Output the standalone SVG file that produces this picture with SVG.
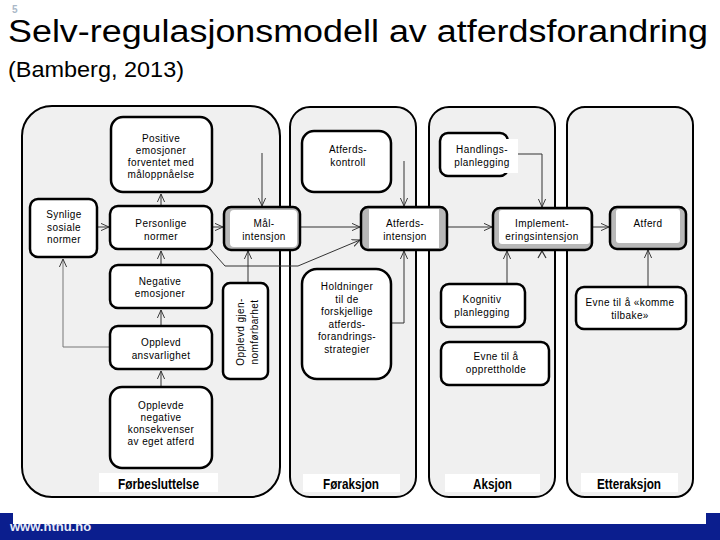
<svg xmlns="http://www.w3.org/2000/svg" width="720" height="540" viewBox="0 0 720 540">
<defs>
<marker id="ah" viewBox="0 0 10 10" refX="10" refY="5" markerWidth="8" markerHeight="8" orient="auto" markerUnits="userSpaceOnUse">
<path d="M0,0.5 L10,5 L0,9.5" fill="none" stroke="#333" stroke-width="1.2"/>
</marker>
<style>
.panel{fill:#f0f0f0;stroke:#000;stroke-width:2}
.node{fill:#fff;stroke:#000;stroke-width:2.5}
.gnode{fill:#b8b8b8;stroke:#000;stroke-width:2.5}
.inner{fill:#fff;stroke:none}
.lbl{fill:#fff;stroke:none}
.t{font-family:"Liberation Sans",Arial,sans-serif;font-size:10px;letter-spacing:0.4px;fill:#000;text-anchor:middle}
.ph{font-family:"Liberation Sans",Arial,sans-serif;font-size:14px;font-weight:bold;fill:#000;text-anchor:middle}
.c{fill:none;stroke:#333;stroke-width:1;marker-end:url(#ah)}
.cg{fill:none;stroke:#777;stroke-width:1;marker-end:url(#ah)}
</style>
</defs>
<rect width="720" height="540" fill="#fff"/>
<text x="12" y="13" font-family="Liberation Sans,Arial,sans-serif" font-size="10" font-weight="bold" fill="#aab8c8">5</text>
<text x="8" y="42" font-family="Liberation Sans,Arial,sans-serif" font-size="31" textLength="700" lengthAdjust="spacingAndGlyphs" fill="#000">Selv-regulasjonsmodell av atferdsforandring</text>
<text x="8" y="77" font-family="Liberation Sans,Arial,sans-serif" font-size="22" textLength="176" lengthAdjust="spacingAndGlyphs" fill="#000">(Bamberg, 2013)</text>

<g id="phases">
<rect class="panel" x="22" y="106" width="258" height="391" rx="30"/>
<rect class="panel" x="290" y="107" width="126" height="390" rx="20"/>
<rect class="panel" x="429" y="107" width="126" height="390" rx="20"/>
<rect class="panel" x="567" y="107" width="126" height="390" rx="18"/>
<rect class="lbl" x="99" y="473" width="119" height="19"/>
<rect class="lbl" x="303" y="474" width="97" height="18"/>
<rect class="lbl" x="445" y="474" width="95" height="18"/>
<rect class="lbl" x="581" y="473" width="97" height="19"/>
<text class="ph" x="158.5" y="489" textLength="81" lengthAdjust="spacingAndGlyphs">Førbesluttelse</text>
<text class="ph" x="351" y="489" textLength="56" lengthAdjust="spacingAndGlyphs">Føraksjon</text>
<text class="ph" x="492.5" y="489" textLength="39" lengthAdjust="spacingAndGlyphs">Aksjon</text>
<text class="ph" x="629" y="489" textLength="64" lengthAdjust="spacingAndGlyphs">Etteraksjon</text>
</g>

<g id="connectors">
<path class="c" d="M161,206 L161,194"/>
<path class="c" d="M97,227 L109,227"/>
<path class="c" d="M212,227 L223,227"/>
<path class="c" d="M161,265 L161,251"/>
<path class="c" d="M161,326 L161,310"/>
<path class="c" d="M161,387 L161,371"/>
<path class="cg" d="M110,347 L63,347 L63,259"/>
<path class="c" d="M248,283 L248,251"/>
<path class="c" d="M262,153 L262,206"/>
<path class="c" d="M300,227 L360,227"/>
<path class="c" d="M210,249 L225,266 L298,266 L360,240"/>
<path class="c" d="M404,161 L404,206"/>
<path class="c" d="M391,323 L404,323 L404,251"/>
<path class="c" d="M447,227 L492,227"/>
<path class="c" d="M518,154 L542,154 L542,207"/>
<path class="c" d="M507,284 L507,251"/>
<path fill="none" stroke="#333" stroke-width="1.2" d="M538,258 L542,251 L546,258"/>
<path class="c" d="M592,227 L609,227"/>
<path class="c" d="M648,287 L648,250"/>
</g>

<g id="positive">
<rect class="node" x="111" y="117" width="101" height="75" rx="12"/>
<text class="t" x="161" y="142">Positive<tspan x="161" dy="12">emosjoner</tspan><tspan x="161" dy="12">forventet med</tspan><tspan x="161" dy="12">måloppnåelse</tspan></text>
</g>
<g id="synlige">
<rect class="node" x="30" y="199" width="67" height="58" rx="8"/>
<text class="t" x="64" y="218">Synlige<tspan x="64" dy="12.5">sosiale</tspan><tspan x="64" dy="12.5">normer</tspan></text>
</g>
<g id="personlige">
<rect class="node" x="110" y="206" width="102" height="43" rx="8"/>
<text class="t" x="161" y="227">Personlige<tspan x="161" dy="13">normer</tspan></text>
</g>
<g id="malintensjon">
<rect class="gnode" x="224" y="207" width="76" height="43" rx="7"/>
<rect class="inner" x="230" y="210" width="67" height="37" rx="4"/>
<text class="t" x="264" y="227">Mål-<tspan x="264" dy="13">intensjon</tspan></text>
</g>
<g id="negative">
<rect class="node" x="110" y="265" width="102" height="43" rx="8"/>
<text class="t" x="160" y="285">Negative<tspan x="160" dy="12">emosjoner</tspan></text>
</g>
<g id="ansvarlighet">
<rect class="node" x="110" y="326" width="102" height="43" rx="8"/>
<text class="t" x="161" y="346">Opplevd<tspan x="161" dy="13">ansvarlighet</tspan></text>
</g>
<g id="konsekvenser">
<rect class="node" x="110" y="387" width="102" height="81" rx="12"/>
<text class="t" x="161" y="409">Opplevde<tspan x="161" dy="12">negative</tspan><tspan x="161" dy="12">konsekvenser</tspan><tspan x="161" dy="12">av eget atferd</tspan></text>
</g>
<g id="gjennomforbarhet">
<rect class="node" x="223" y="283" width="45" height="96" rx="7"/>
<text class="t" transform="translate(247,332) rotate(-90)" x="0" y="-3">Opplevd gjen-<tspan x="0" dy="13.5">nomførbarhet</tspan></text>
</g>
<g id="atferdskontroll">
<rect class="node" x="302" y="131" width="89" height="61" rx="12"/>
<text class="t" x="348" y="153">Atferds-<tspan x="348" dy="13">kontroll</tspan></text>
</g>
<g id="atferdsintensjon">
<rect class="gnode" x="361" y="207" width="86" height="43" rx="7"/>
<rect class="inner" x="369" y="209" width="70" height="39"/>
<text class="t" x="405" y="227">Atferds-<tspan x="405" dy="13">intensjon</tspan></text>
</g>
<g id="holdninger">
<rect class="node" x="302" y="269" width="89" height="110" rx="15"/>
<text class="t" x="347" y="290">Holdninger<tspan x="347" dy="12.6">til de</tspan><tspan x="347" dy="12.6">forskjellige</tspan><tspan x="347" dy="12.6">atferds-</tspan><tspan x="347" dy="12.6">forandrings-</tspan><tspan x="347" dy="12.6">strategier</tspan></text>
</g>
<g id="handlingsplanlegging">
<rect class="node" x="440" y="133" width="68" height="43" rx="8"/>
<rect class="lbl" x="453" y="139" width="65" height="34"/>
<text class="t" x="482" y="153">Handlings-<tspan x="482" dy="13">planlegging</tspan></text>
</g>
<g id="implementeringsintensjon">
<rect class="gnode" x="493" y="208" width="99" height="42" rx="7"/>
<rect class="inner" x="499" y="210" width="91" height="34" rx="3"/>
<text class="t" x="542" y="227">Implement-<tspan x="542" dy="13">eringsintensjon</tspan></text>
</g>
<g id="kognitiv">
<rect class="node" x="441" y="284" width="84" height="43" rx="8"/>
<text class="t" x="482" y="303">Kognitiv<tspan x="482" dy="13">planlegging</tspan></text>
</g>
<g id="opprettholde">
<rect class="node" x="441" y="342" width="108" height="43" rx="8"/>
<text class="t" x="496" y="360">Evne til å<tspan x="496" dy="13">opprettholde</tspan></text>
</g>
<g id="atferd">
<rect class="gnode" x="610" y="207" width="76" height="42" rx="7"/>
<rect class="inner" x="616" y="209" width="64" height="34" rx="3"/>
<text class="t" x="648" y="227">Atferd</text>
</g>
<g id="kommetilbake">
<rect class="node" x="576" y="287" width="110" height="42" rx="8"/>
<text class="t" x="630" y="306">Evne til å «komme<tspan x="630" dy="13">tilbake»</tspan></text>
</g>

<g id="footer">
<rect x="0" y="513" width="720" height="27" fill="#0b1e8e"/>
<text x="10" y="531" font-family="Liberation Sans,Arial,sans-serif" font-size="13" font-weight="bold" fill="#e8ecf8">www.ntnu.no</text>
<rect x="13" y="513" width="693" height="11" fill="#fff"/>
</g>
</svg>
